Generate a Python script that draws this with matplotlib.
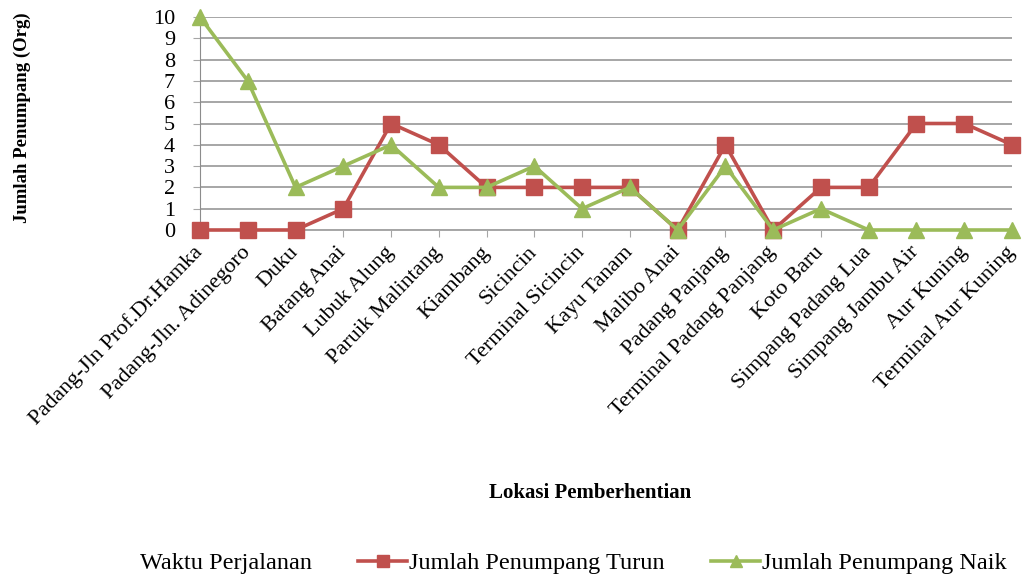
import matplotlib
matplotlib.use('Agg')
import matplotlib.pyplot as plt
from matplotlib.lines import Line2D

FIGURE_XSIZE = 10.23
FIGURE_YSIZE = 5.79
GRID_RGB = '#A6A6A6'
TURUN_RGB = '#C0504D'
NAIK_RGB = '#9BBB59'

plt.rcParams['font.family'] = ['Liberation Serif', 'DejaVu Serif']

stops = ['Padang-Jln Prof.Dr.Hamka', 'Padang-Jln. Adinegoro', 'Duku', 'Batang Anai',
         'Lubuk Alung', 'Paruik Malintang', 'Kiambang', 'Sicincin', 'Terminal Sicincin',
         'Kayu Tanam', 'Malibo Anai', 'Padang Panjang', 'Terminal Padang Panjang',
         'Koto Baru', 'Simpang Padang Lua', 'Simpang Jambu Air', 'Aur Kuning',
         'Terminal Aur Kuning']
turun = [0, 0, 0, 1, 5, 4, 2, 2, 2, 2, 0, 4, 0, 2, 2, 5, 5, 4]
naik = [10, 7, 2, 3, 4, 2, 2, 3, 1, 2, 0, 3, 0, 1, 0, 0, 0, 0]
y_ticks = list(range(0, 11))

figure = plt.figure(figsize=(FIGURE_XSIZE, FIGURE_YSIZE), dpi=100, facecolor='white')
axes = figure.add_axes([200 / 1023, 1 - 230 / 579, 812 / 1023, 213 / 579])

x = list(range(len(stops)))
axes.plot(x, turun, color=TURUN_RGB, linewidth=2.6, marker='s', markersize=11,
          clip_on=False, zorder=3, label='Jumlah Penumpang Turun')
axes.plot(x, naik, color=NAIK_RGB, linewidth=2.6, marker='^', markersize=12,
          clip_on=False, zorder=4, label='Jumlah Penumpang Naik')

axes.set_xlim(0, len(stops) - 1)
axes.set_ylim(0, 10)
axes.set_yticks(y_ticks)
axes.set_xticks(x)
axes.set_xticklabels(stops, rotation=46, ha='right', va='center',
                     rotation_mode='anchor', fontsize=16)
axes.tick_params(axis='x', length=5, color=GRID_RGB, pad=9)
axes.tick_params(axis='y', length=5, color=GRID_RGB, labelsize=16, pad=13)

axes.grid(axis='y', color=GRID_RGB, linewidth=1.4)
axes.set_axisbelow(True)
for side in ['top', 'right']:
    axes.spines[side].set_visible(False)
axes.spines['left'].set_color('#8C8C8C')
axes.spines['bottom'].set_color(GRID_RGB)
axes.spines['bottom'].set_linewidth(1.4)

figure.text(22 / 1023, 1 - 118 / 579, 'Jumlah Penumpang (Org)', rotation=90,
            ha='center', va='center', fontsize=13.5, fontweight='bold')
figure.text(590 / 1023, 1 - 493 / 579, 'Lokasi Pemberhentian',
            ha='center', va='center', fontsize=15, fontweight='bold')

handles = [Line2D([], [], color='none'),
           Line2D([], [], color=TURUN_RGB, linewidth=2.6, marker='s', markersize=9),
           Line2D([], [], color=NAIK_RGB, linewidth=2.6, marker='^', markersize=9)]
labels = ['Waktu Perjalanan', 'Jumlah Penumpang Turun', 'Jumlah Penumpang Naik']
figure.legend(handles, labels, loc='center', bbox_to_anchor=(548 / 1023, 1 - 563 / 579),
              ncol=3, frameon=False, fontsize=17.5, handlelength=2.0,
              handletextpad=0.1, columnspacing=1.9)

figure.savefig('out.png', dpi=100)
